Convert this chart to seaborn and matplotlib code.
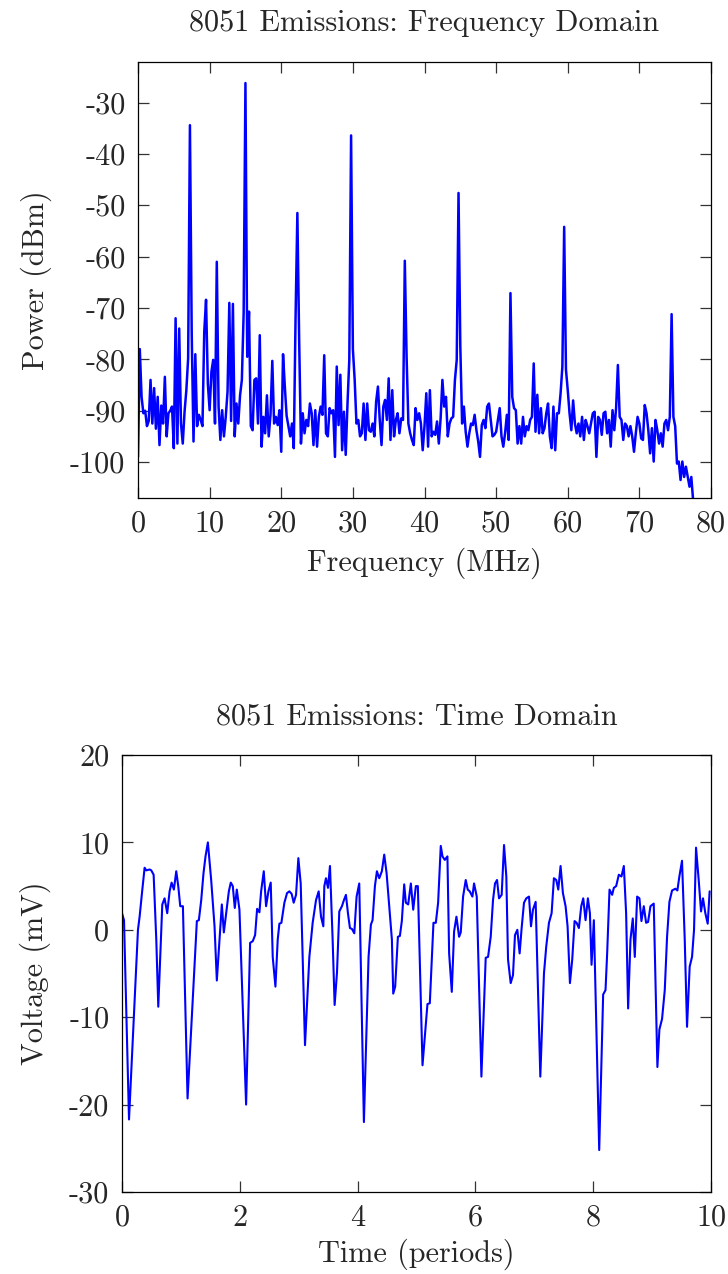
import numpy as np
import pandas as pd
import matplotlib
matplotlib.use("Agg")
import matplotlib.pyplot as plt
import seaborn as sns

# ---------------- data: frequency domain (0.25 MHz bins) ----------------
freq_step_mhz = 0.25
power_dbm = [
    -99, -78, -87.3, -90.5, -90, -93, -92, -84, -92.5, -85.6,
    -93.5, -87.3, -96.7, -89, -92.5, -83.4, -95, -90.5, -90, -89.2,
    -97.3, -72, -96.4, -74, -92.5, -96.4, -90.2, -86, -79.8, -34.4,
    -75, -96, -79, -93, -90.8, -91.8, -93, -74.6, -68.4, -84.7,
    -89.9, -82.4, -80.1, -92.5, -61, -89.2, -95.7, -89.9, -95, -91.2,
    -86.3, -69, -92, -69.2, -95, -88.6, -92.5, -87, -84, -71,
    -26.2, -79.5, -70.7, -93, -93.8, -84, -83.7, -92.5, -75.3, -97,
    -91.2, -94.4, -87, -95, -90.8, -80.3, -92.5, -91.2, -92.8, -89.9,
    -98, -79, -85.3, -91, -93, -95, -92.5, -97.3, -71.7, -51.5,
    -76.2, -96.4, -90.5, -94.4, -91.8, -93, -88.6, -90.5, -96.7, -89.9,
    -97, -91.2, -89.2, -90.8, -79.2, -94.4, -95, -89.5, -90.5, -89.9,
    -99, -81.4, -92.8, -83, -97.7, -90.2, -98.6, -88.6, -80.1, -36.4,
    -78, -84, -92.5, -91.8, -95, -94.4, -88.6, -95.7, -88.6, -93.8,
    -94.1, -92.5, -95, -88.2, -85.3, -91.8, -96.7, -89.2, -87.9, -91.8,
    -83.7, -95.7, -86, -95, -91.8, -90.5, -94.4, -91.5, -91.8, -60.8,
    -79.5, -92.5, -94.4, -95.7, -96.7, -89.5, -91.8, -90.5, -92.5, -97.7,
    -93, -86.6, -97, -86, -95, -94.1, -94.7, -92.1, -96.4, -91.5,
    -84, -89.2, -87.3, -95, -92.5, -91.5, -91.2, -84, -80.1, -47.6,
    -77.5, -92.5, -89.2, -94.1, -97, -94.4, -92.5, -92.8, -90.8, -93.8,
    -96, -99, -92.8, -91.8, -93.4, -89.2, -88.6, -91.8, -95, -94.7,
    -94.1, -91.8, -89.5, -95, -97, -94.4, -90.8, -95.7, -67.1, -87.3,
    -89.5, -89.9, -96.4, -93, -96.4, -91.2, -95, -93, -93.8, -91.8,
    -91.2, -80.8, -94.1, -86.9, -94.4, -89.5, -94.4, -93.4, -90.5, -88.6,
    -95, -97.3, -89.2, -97.7, -90.5, -90.5, -86.6, -81.4, -54.2, -82,
    -86, -90.5, -93.8, -88, -92.5, -94.4, -92.5, -95, -91.2, -95.7,
    -91.8, -93, -94.4, -92.5, -90.5, -90.2, -99, -91.2, -91.8, -94.7,
    -90.5, -90.2, -94.4, -91.8, -97, -89.9, -93.8, -89.5, -81.1, -91.2,
    -91.8, -95.7, -92.5, -93, -95, -93, -95, -98, -94.4, -91.2,
    -92.5, -95.4, -95.7, -88.9, -90.5, -93.8, -98.3, -93.4, -99.9, -91.8,
    -93.8, -96.4, -94.4, -97, -92.5, -91.8, -93.8, -91.2, -71.2, -91.2,
    -93, -100.3, -99.9, -103.5, -99.9, -102.9, -100.9, -102.9, -104.8, -102.9,
    -107.4,
]
freq_mhz = np.arange(len(power_dbm)) * freq_step_mhz

# ---------------- data: time domain ----------------
time_periods = [
    0.000, 0.034, 0.119, 0.271, 0.299, 0.345, 0.384, 0.412, 0.469, 0.497,
    0.537, 0.582, 0.616, 0.684, 0.723, 0.768, 0.808, 0.842, 0.881, 0.921,
    0.955, 0.989, 1.034, 1.113, 1.271, 1.305, 1.345, 1.384, 1.418, 1.458,
    1.514, 1.571, 1.610, 1.655, 1.695, 1.729, 1.768, 1.814, 1.847, 1.881,
    1.915, 1.949, 1.994, 2.107, 2.175, 2.220, 2.260, 2.294, 2.333, 2.362,
    2.407, 2.446, 2.486, 2.525, 2.559, 2.605, 2.644, 2.672, 2.706, 2.757,
    2.802, 2.842, 2.881, 2.915, 2.955, 2.994, 3.034, 3.107, 3.181, 3.237,
    3.294, 3.339, 3.379, 3.418, 3.435, 3.463, 3.497, 3.531, 3.576, 3.610,
    3.650, 3.689, 3.734, 3.768, 3.802, 3.836, 3.870, 3.904, 3.944, 3.983,
    4.028, 4.107, 4.186, 4.226, 4.254, 4.294, 4.328, 4.367, 4.412, 4.452,
    4.492, 4.537, 4.582, 4.605, 4.638, 4.684, 4.718, 4.751, 4.791, 4.819,
    4.859, 4.904, 4.944, 4.989, 5.023, 5.102, 5.186, 5.226, 5.288, 5.328,
    5.367, 5.412, 5.441, 5.480, 5.525, 5.554, 5.599, 5.638, 5.678, 5.723,
    5.751, 5.791, 5.836, 5.870, 5.904, 5.949, 5.977, 6.023, 6.102, 6.175,
    6.215, 6.260, 6.299, 6.333, 6.367, 6.401, 6.446, 6.486, 6.525, 6.554,
    6.599, 6.638, 6.672, 6.712, 6.751, 6.785, 6.825, 6.864, 6.910, 6.944,
    6.977, 7.023, 7.102, 7.164, 7.203, 7.249, 7.294, 7.333, 7.373, 7.407,
    7.446, 7.486, 7.531, 7.565, 7.605, 7.644, 7.684, 7.718, 7.757, 7.797,
    7.831, 7.870, 7.910, 7.944, 7.972, 8.011, 8.102, 8.169, 8.209, 8.237,
    8.277, 8.322, 8.350, 8.390, 8.435, 8.480, 8.520, 8.559, 8.593, 8.633,
    8.672, 8.706, 8.746, 8.785, 8.819, 8.859, 8.898, 8.932, 8.972, 9.028,
    9.090, 9.124, 9.169, 9.215, 9.254, 9.294, 9.339, 9.395, 9.429, 9.463,
    9.508, 9.554, 9.593, 9.638, 9.678, 9.712, 9.746, 9.791, 9.831, 9.864,
    9.904, 9.944, 9.977,
]
voltage_mv = [
    1.9, 1.1, -21.7, 0.0, 1.5, 4.6, 7.1, 6.8, 6.9, 6.8,
    6.3, -1.1, -8.8, 2.9, 3.6, 1.9, 4.4, 5.4, 4.6, 6.7,
    5.0, 2.7, 2.7, -19.3, 1.0, 1.1, 3.4, 6.5, 8.4, 10.0,
    5.7, 0.4, -5.8, -1.1, 2.9, -0.3, 1.9, 4.4, 5.4, 5.0,
    2.5, 4.6, 2.3, -20.0, -1.5, -1.3, -0.6, 2.4, 2.0, 4.4,
    6.7, 2.7, 4.4, 5.4, -3.1, -6.5, -1.1, 0.7, 0.8, 3.1,
    4.2, 4.4, 4.1, 3.1, 4.0, 8.2, 5.3, -13.2, -3.1, 0.8,
    3.4, 4.4, 1.5, 0.4, 5.0, 5.9, 4.8, 7.3, -1.1, -8.6,
    -4.9, 2.1, 2.7, 3.4, 4.0, 1.9, 0.2, 0.1, -0.4, 3.8,
    5.3, -22.0, -3.1, 0.6, 1.1, 5.0, 6.7, 5.9, 6.7, 8.6,
    6.5, 2.7, -1.1, -7.3, -6.5, -0.8, -0.7, 1.0, 5.2, 3.1,
    2.9, 5.3, 2.3, 5.0, 5.0, -15.5, -8.5, -8.4, 0.8, 0.8,
    3.1, 9.6, 8.4, 8.0, 8.4, -2.7, -7.1, -0.2, 1.5, -0.8,
    -0.3, 3.8, 5.7, 4.6, 4.4, 3.8, 5.3, 3.8, -16.8, -3.2,
    -3.1, -0.8, 3.4, 5.3, 5.7, 3.6, 4.0, 9.7, 6.1, -3.4,
    -6.1, -5.2, -0.6, 0.0, -2.7, 0.2, 3.1, 3.6, 3.8, 0.4,
    2.3, 3.2, -16.8, -5.0, -1.9, 0.8, 1.9, 5.9, 5.7, 4.6,
    7.3, 4.2, 2.7, 0.4, -6.1, -3.4, 1.0, 0.8, 0.2, 2.7,
    3.6, 1.1, 3.6, 1.9, -4.0, 1.1, -25.2, -7.4, -6.9, -2.7,
    4.6, 4.0, 4.8, 5.0, 6.3, 6.1, 7.3, 1.9, -9.0, -1.1,
    1.3, -3.1, 3.8, 3.6, 1.0, 2.7, 0.8, 0.9, 2.7, 3.0,
    -15.7, -11.4, -10.2, -6.9, -0.8, 3.2, 4.5, 4.7, 4.5, 6.1,
    7.9, -1.1, -11.1, -4.2, -3.1, 0.0, 9.4, 5.7, 2.1, 3.6,
    1.9, 0.7, 4.4,
]

freq_ticks = [0, 10, 20, 30, 40, 50, 60, 70, 80]
power_ticks = [-100, -90, -80, -70, -60, -50, -40, -30]
time_ticks = [0, 2, 4, 6, 8, 10]
volt_ticks = [-30, -20, -10, 0, 10, 20]

df_f = pd.DataFrame({"f": freq_mhz, "p": power_dbm})
df_t = pd.DataFrame({"t": time_periods, "v": voltage_mv})

# ---------------- style ----------------
sns.set_style("ticks")
plt.rcParams["font.family"] = ["serif"]
plt.rcParams["font.serif"] = ["cmr10", "DejaVu Serif"]
plt.rcParams["mathtext.fontset"] = "cm"
plt.rcParams["axes.unicode_minus"] = False
plt.rcParams["axes.formatter.use_mathtext"] = False

FS = 21.8
W, H = 728, 1274
fig = plt.figure(figsize=(W / 100, H / 100), dpi=100)

def px_axes(l, t, r, b):
    return fig.add_axes([l / W, 1 - b / H, (r - l) / W, (b - t) / H])

ax1 = px_axes(138, 62, 711, 498)
ax2 = px_axes(122, 755, 711, 1192)

blue = "#0000ff"
sns.lineplot(data=df_f, x="f", y="p", ax=ax1, color=blue, linewidth=1.8,
             estimator=None, sort=False)
sns.lineplot(data=df_t, x="t", y="v", ax=ax2, color=blue, linewidth=1.5,
             estimator=None, sort=False)

ax1.set_xlim(0, 80)
ax1.set_ylim(-107.0, -22.1)
ax1.set_xticks(freq_ticks)
ax1.set_yticks(power_ticks)
ax1.set_title("8051 Emissions: Frequency Domain", fontsize=FS, pad=22)
ax1.set_xlabel("Frequency (MHz)", fontsize=FS, labelpad=7)
ax1.set_ylabel("Power (dBm)", fontsize=FS, labelpad=13)

ax2.set_xlim(0, 10)
ax2.set_ylim(-30, 20)
ax2.set_xticks(time_ticks)
ax2.set_yticks(volt_ticks)
ax2.set_title("8051 Emissions: Time Domain", fontsize=FS, pad=22)
ax2.set_xlabel("Time (periods)", fontsize=FS, labelpad=5)
ax2.set_ylabel("Voltage (mV)", fontsize=FS, labelpad=13)

for ax in (ax1, ax2):
    for sp in ax.spines.values():
        sp.set_visible(True)
        sp.set_linewidth(0.9)
        sp.set_color("black")
    ax.tick_params(axis="both", which="both", direction="in", length=8,
                   width=0.9, top=True, right=True, labelsize=FS, pad=9,
                   color="#333333")

fig.savefig("out.png", dpi=100)
